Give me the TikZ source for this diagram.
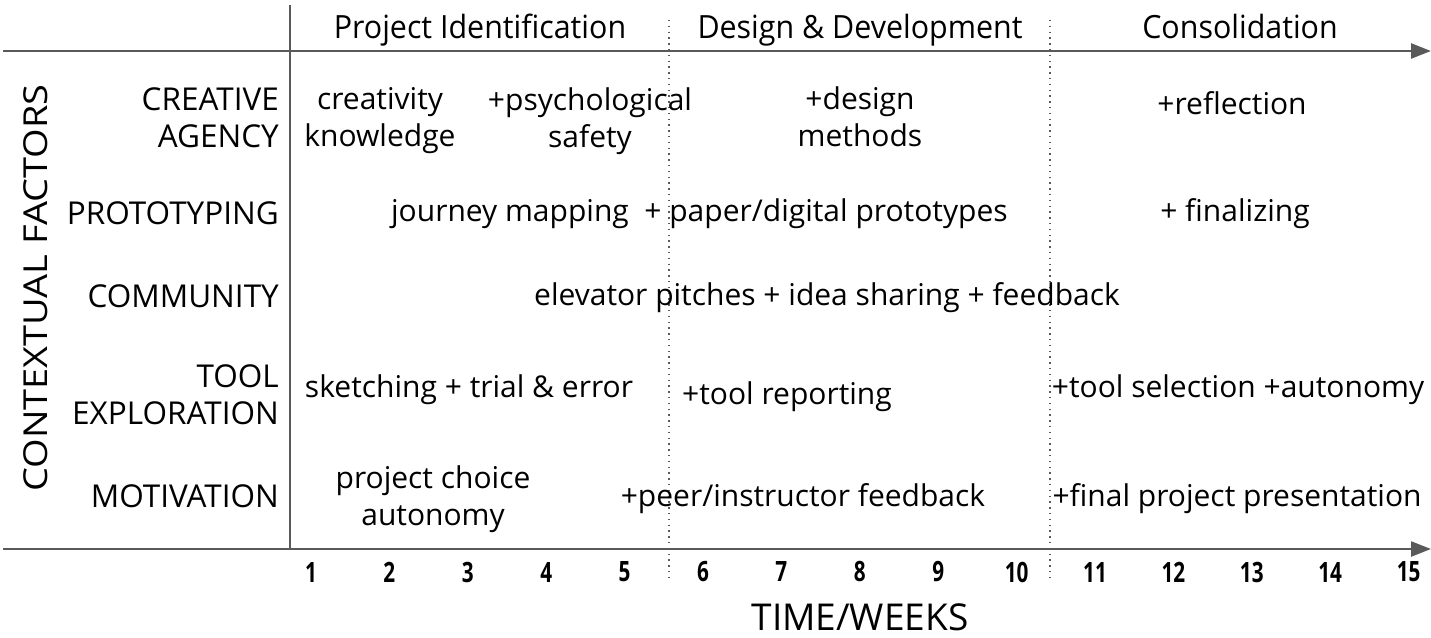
\documentclass[tikz,border=0pt]{standalone}
\usepackage{fontspec}
\setmainfont{Open Sans}
\newfontfamily\narrowfont{Open Sans}[FakeStretch=0.95]
\newfontfamily\numfont{Open Sans}[FakeStretch=0.74]
\newfontfamily\axisfont{Open Sans}
\newfontfamily\widefont{Open Sans}[FakeStretch=1.15]
\usetikzlibrary{arrows.meta}
\definecolor{axisgray}{HTML}{5A5A5A}
\begin{document}
\begin{tikzpicture}[x=1pt,y=-1pt,
  axis/.style={draw=axisgray,line width=2.4pt},
  axisarrow/.style={axis,-{Triangle[length=20pt,width=15pt]}},
  phasesep/.style={draw=axisgray,line width=1.1pt,dash pattern=on 1.3pt off 4.5pt},
  cell/.style={font=\fontsize{30}{37}\selectfont,align=center,inner sep=0pt,text=black},
  factor/.style={font=\fontsize{31.5}{37}\selectfont,align=right,anchor=east,inner sep=0pt},
  phase/.style={font=\narrowfont\fontsize{32}{36}\selectfont,inner sep=0pt,anchor=base},
  week/.style={font=\numfont\bfseries\fontsize{28}{30}\selectfont,inner sep=0pt},
  timestyle/.style={font=\axisfont\fontsize{37}{40}\selectfont,inner sep=0pt},
  ctxstyle/.style={font=\widefont\fontsize{33}{40}\selectfont,inner sep=0pt}]
\useasboundingbox (0,0) rectangle (1431,637);

% axes
\coordinate (ytop) at (290,5);
\coordinate (ybot) at (290,549);
\coordinate (tstart) at (3,51);
\coordinate (tend) at (1431,51);
\coordinate (bstart) at (3,549);
\coordinate (bend) at (1431,549);
\draw[axis] (ytop) -- (ybot);
\draw[axisarrow] (tstart) -- (tend);
\draw[axisarrow] (bstart) -- (bend);

% phase boundaries
\coordinate (s1top) at (669,20);
\coordinate (s1bot) at (669,580);
\coordinate (s2top) at (1050,20);
\coordinate (s2bot) at (1050,580);
\draw[phasesep] (s1top) -- (s1bot);
\draw[phasesep] (s2top) -- (s2bot);

% phases
\node[phase] (p1) at (480,38) {Project Identification};
\node[phase] (p2) at (860,38) {Design \& Development};
\node[phase] (p3) at (1240,38) {Consolidation};

% weeks
\foreach \w in {1,...,15}
  \node[week] (w\w) at ({311+78.4*(\w-1)},572) {\w};
\node[timestyle] (timelabel) at (860,617) {TIME/WEEKS};
\node[ctxstyle,rotate=90] (ctxlabel) at (36,288) {CONTEXTUAL FACTORS};

% factors
\node[factor] (fca) at (279,118) {CREATIVE\\AGENCY};
\node[factor] (fpr) at (279,213) {PROTOTYPING};
\node[factor] (fco) at (279,296) {COMMUNITY};
\node[factor] (fto) at (279,395) {TOOL\\EXPLORATION};
\node[factor] (fmo) at (279,496) {MOTIVATION};

% creative agency
\node[cell] (ca1) at (380,121) {creativity\\knowledge};
\node[cell] (ca2) at (590,121) {+psychological\\safety};
\node[cell] (ca3) at (860,117) {+design\\methods};
\node[cell] (ca4) at (1232,103) {+reflection};
% prototyping
\node[cell] (pr1) at (510,214) {journey mapping};
\node[cell] (pr2) at (826,214) {+ paper/digital prototypes};
\node[cell] (pr3) at (1235,214) {+ finalizing};
% community
\node[cell] (co1) at (827,298) {elevator pitches + idea sharing + feedback};
% tool exploration
\node[cell] (to1) at (469,390) {sketching + trial \& error};
\node[cell] (to2) at (787,397) {+tool reporting};
\node[cell] (to3) at (1238,390) {+tool selection +autonomy};
% motivation
\node[cell] (mo1) at (433,499) {project choice\\autonomy};
\node[cell] (mo2) at (803,499) {+peer/instructor feedback};
\node[cell] (mo3) at (1237,499) {+final project presentation};
\end{tikzpicture}
\end{document}
